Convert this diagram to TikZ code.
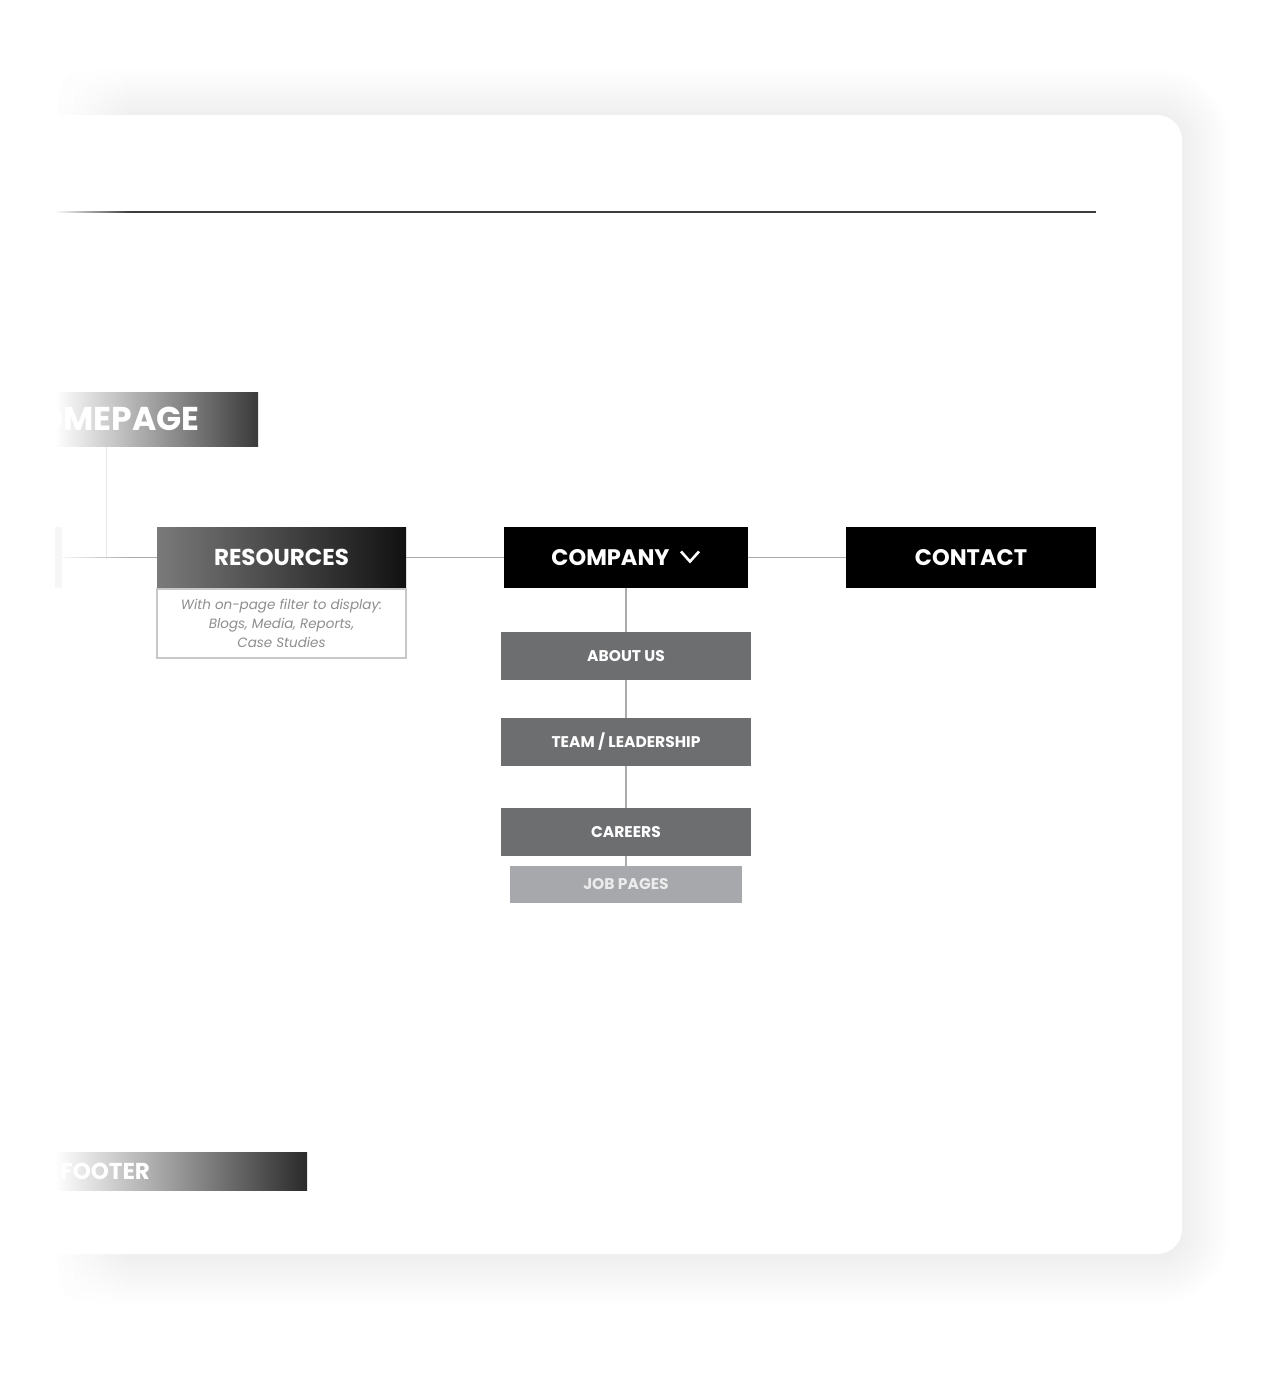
\documentclass[tikz,border=0pt]{standalone}
\usepackage{fontspec}
\setmainfont{Poppins}
\usetikzlibrary{fadings,calc}

\definecolor{subgray}{HTML}{6D6E70}
\definecolor{jobgray}{HTML}{A7A8AB}
\definecolor{jobtext}{HTML}{ECECEC}
\definecolor{linkgray}{HTML}{ABABAB}
\definecolor{faintgray}{HTML}{DEDEDE}
\definecolor{notegray}{HTML}{8E8E8E}
\definecolor{noteframe}{HTML}{C8C8C8}
\definecolor{homedark}{HTML}{3A3A3A}
\definecolor{footdark}{HTML}{2A2A2A}
\definecolor{resleft}{HTML}{7A7A7A}
\definecolor{resright}{HTML}{111111}
\definecolor{rulegray}{HTML}{3C3C3C}

\pgfdeclarelayer{background}
\pgfsetlayers{background,main}

\tikzset{
  navbox/.style={rectangle, inner sep=0pt, minimum width=#1, minimum height=61pt,
    fill=black, text=white, font=\bfseries\fontsize{23}{26}\selectfont},
  subbox/.style={rectangle, inner sep=0pt, minimum width=250pt, minimum height=48pt,
    fill=subgray, text=white, font=\bfseries\fontsize{15.5}{18}\selectfont},
  link/.style={draw=linkgray, line width=1.5pt},
}

\begin{document}
\begin{tikzpicture}[x=1pt,y=-1pt]
  \useasboundingbox (0,0) rectangle (1281,1381);

  % Cut-off left column: homepage, footer and the previous menu item
  \begin{scope}
    \clip (55,0) rectangle (1281,1381);
    \shade[left color=white, right color=homedark] (55,392) rectangle (258,446);
    \node[rectangle, inner sep=0pt, minimum width=303pt, minimum height=54pt,
      text=white, font=\bfseries\fontsize{33}{36}\selectfont] (home) at (106.5,419) {HOMEPAGE};
    \shade[left color=white, right color=footdark] (55,1152) rectangle (307,1190);
    \node[anchor=west, inner sep=0pt, text=white, font=\bfseries\fontsize{23}{26}\selectfont]
      (footer) at (60,1171) {FOOTER};
    \node[navbox=22pt, fill=gray!7] (prevnav) at (51,557.5) {};
  \end{scope}

  % Main navigation
  \node[navbox=249pt, left color=resleft, right color=resright] (resources) at (281.5,557.5) {RESOURCES};
  \node[rectangle, inner sep=0pt, minimum width=249pt, minimum height=69pt,
    draw=noteframe, line width=2pt, align=center, text=notegray,
    font=\itshape\fontsize{13.5}{19}\selectfont] (resnote) at (281.5,623.5)
    {With on-page filter to display:\\Blogs, Media, Reports,\\Case Studies};
  \node[navbox=244pt] (company) at (626,557.5) {};
  \node[text=white, inner sep=0pt, font=\bfseries\fontsize{22.5}{26}\selectfont]
    (companylabel) at ($(company.center)+(-15.5,0)$) {COMPANY};
  \draw[white, line width=2.6pt] ($(company.center)+(55,-6)$) -- ++(9,10) -- ++(9,-10);
  \node[navbox=250pt, font=\bfseries\fontsize{22.5}{26}\selectfont] (contact) at (971,557.5) {CONTACT};

  % Company pages
  \node[subbox] (about) at (626,656) {ABOUT US};
  \node[subbox] (team) at (626,742) {TEAM / LEADERSHIP};
  \node[subbox] (careers) at (626,832) {CAREERS};
  \node[subbox, minimum width=232pt, minimum height=37pt, fill=jobgray, text=jobtext] (jobs) at (626,884.5) {JOB PAGES};

  \begin{pgfonlayer}{background}
    % Card with soft shadow
    \foreach \i in {1,...,16} {
      \fill[black, opacity=0.005, rounded corners=25pt+\i*3pt]
        (-100-\i*3,115-\i*3+2) rectangle (1182+\i*3,1254+\i*3+2);
    }
    \fill[white, rounded corners=25pt] (-100,115) rectangle (1182,1254);

    % Header rule
    \draw[rulegray, line width=1.2pt] (55,212) -- (1096,212);

    % Connectors
    \draw[draw=faintgray, line width=1.5pt] (home.south) |- (resources.west);
    \draw[link] (prevnav.east) -- (resources.west);
    \draw[link] (resources.east) -- (company.west);
    \draw[link] (company.east) -- (contact.west);
    \draw[link] (company.south) -- (about.north);
    \draw[link] (about.south) -- (team.north);
    \draw[link] (team.south) -- (careers.north);
    \draw[link] (careers.south) -- (jobs.north);

    % Left fade
    \fill[white] (0,0) rectangle (55,1381);
    \fill[white, path fading=east] (55,0) rectangle (130,1381);
  \end{pgfonlayer}
\end{tikzpicture}
\end{document}
